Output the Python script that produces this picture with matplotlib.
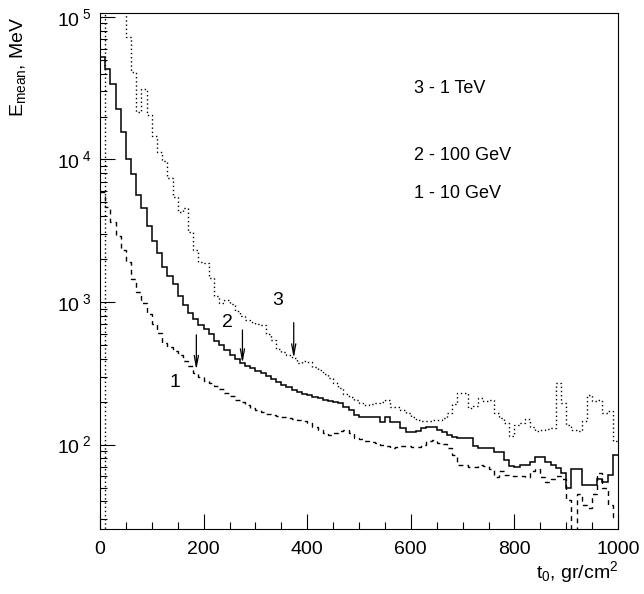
import numpy as np
import matplotlib
matplotlib.use("Agg")
import matplotlib.pyplot as plt
from matplotlib.ticker import FixedLocator, FixedFormatter, LogLocator, MultipleLocator, NullFormatter

plt.rcParams["font.family"] = ["Liberation Sans", "DejaVu Sans"]
plt.rcParams["mathtext.fontset"] = "custom"
plt.rcParams["mathtext.rm"] = "Liberation Sans"
plt.rcParams["mathtext.it"] = "Liberation Sans:italic"
plt.rcParams["mathtext.bf"] = "Liberation Sans:bold"

# ---- data: mean energy per 10 gr/cm^2 bin, t0 = 0..1000 ----
bin_edges = np.arange(0, 1001, 10)

# 3 - 1 TeV (dotted)
e_1tev = [
    0, 150000, 150000, 150000, 150000, 72400, 40900, 21600, 31000, 20500,
    14600, 11300, 9760, 7420, 5470, 4280, 4560, 3100, 2320, 1910,
    1880, 1475, 1100, 986, 1035, 971, 867, 800, 750, 726,
    702, 692, 598, 542, 469, 447, 425, 405, 374, 386,
    380, 351, 334, 313, 294, 271, 250, 227, 216, 206,
    196, 190, 193, 196, 200, 206, 184, 184, 175, 167,
    157, 149, 147, 147, 149, 149, 154, 167, 193, 231,
    231, 181, 187, 213, 203, 206, 167, 154, 142, 115,
    138, 142, 152, 133, 125, 127, 129, 131, 272, 196,
    138, 127, 125, 147, 223, 203, 206, 167, 173, 106,
]

# 2 - 100 GeV (solid)
e_100gev = [
    52000, 43000, 34000, 22500, 15600, 10100, 7900, 5640, 4540, 3410,
    2690, 2200, 1770, 1520, 1330, 1100, 955, 843, 758, 692,
    648, 598, 534, 500, 461, 425, 399, 374, 356, 345,
    329, 318, 303, 289, 275, 262, 254, 242, 234, 227,
    223, 216, 213, 206, 203, 200, 196, 184, 175, 162,
    157, 157, 157, 157, 145, 157, 145, 145, 131, 123,
    123, 125, 131, 133, 133, 127, 123, 117, 114, 112,
    112, 112, 98, 94, 94, 95, 89, 89, 78, 71,
    70, 72, 72, 76, 82, 82, 76, 72, 69, 63,
    50, 67, 67, 52, 52, 52, 57, 55, 61, 85,
]

# 1 - 10 GeV (dashed)
e_10gev = [
    5900, 4640, 3640, 2900, 2320, 1910, 1450, 1180, 986, 826,
    702, 607, 516, 484, 454, 425, 386, 356, 318, 299,
    280, 271, 258, 246, 231, 220, 206, 200, 190, 181,
    175, 170, 164, 162, 159, 157, 154, 152, 149, 147,
    142, 133, 127, 121, 117, 121, 125, 127, 120, 112,
    110, 106, 105, 103, 100, 98, 95, 97, 98, 98,
    97, 97, 100, 106, 108, 103, 101, 94, 84, 72,
    72, 70, 70, 72, 71, 67, 59, 65, 61, 60,
    60, 60, 59, 65, 67, 59, 55, 57, 60, 57,
    41, 0, 45, 38, 36, 45, 63, 50, 38, 31,
]

# labels and arrows marking the curves
legend_lines = ["3 - 1 TeV", "2 - 100 GeV", "1 - 10 GeV"]
legend_y = [31600, 10700, 5800]
curve_tags = ["1", "2", "3"]
tag_x = [144, 246, 343]
tag_y = [271, 713, 1030]
arrow_x = [186, 275, 374]
arrow_top = [589, 637, 717]
arrow_tip = [334, 372, 403]
decades = [2, 3, 4, 5]

# ---- figure ----
fig = plt.figure(figsize=(6.44, 5.94), dpi=100)
ax = fig.add_axes([100 / 644, 65 / 594, 518 / 644, 516.3 / 594])

floor = 1.0
ax.stairs(np.clip(e_1tev, floor, None), bin_edges, baseline=None,
          color="black", lw=1.0, ls=(0, (1, 2)))
ax.stairs(np.clip(e_100gev, floor, None), bin_edges, baseline=None,
          color="black", lw=1.1)
ax.stairs(np.clip(e_10gev, floor, None), bin_edges, baseline=None,
          color="black", lw=1.0, ls=(0, (3.5, 3)))

ax.set_yscale("log")
ax.set_xlim(0, 1000)
ax.set_ylim(25.6, 1.07e5)

# ROOT-like ticks: inward, left and bottom only
ax.xaxis.set_major_locator(MultipleLocator(200))
ax.xaxis.set_minor_locator(MultipleLocator(50))
ax.yaxis.set_major_locator(FixedLocator([10.0 ** d for d in decades]))
ax.yaxis.set_major_formatter(FixedFormatter(
    [r"$\mathregular{10^{\ %d}}$" % d for d in decades]))
ax.yaxis.set_minor_locator(LogLocator(base=10, subs=np.arange(2, 10)))
ax.yaxis.set_minor_formatter(NullFormatter())
ax.tick_params(which="both", direction="in", top=False, right=False,
               width=0.8, labelsize=14)
ax.tick_params(which="major", length=11)
ax.tick_params(which="minor", length=5)
ax.tick_params(axis="x", pad=9)
ax.tick_params(axis="y", pad=6)
for s in ax.spines.values():
    s.set_linewidth(0.8)

for i, txt in enumerate(legend_lines):
    ax.text(607, legend_y[i], txt, fontsize=13, ha="left", va="center")

for i, tag in enumerate(curve_tags):
    ax.text(tag_x[i], tag_y[i], tag, fontsize=14, ha="center", va="center")

for i in range(len(arrow_x)):
    ax.annotate("", xy=(arrow_x[i], arrow_tip[i]), xytext=(arrow_x[i], arrow_top[i]),
                arrowprops=dict(arrowstyle="->,head_length=0.8,head_width=0.15",
                                color="black", lw=0.9, shrinkA=0, shrinkB=0))

fig.text(18 / 644, 1 - 16 / 594, r"E$_{\mathregular{mean}}$, MeV", rotation=90,
         ha="center", va="top", fontsize=14)
fig.text(618 / 644, 1 - 572 / 594, r"t$_{\mathregular{0}}$, gr/cm$^{\mathregular{2}}$",
         ha="right", va="center", fontsize=14)

fig.savefig("out.png", dpi=100)
